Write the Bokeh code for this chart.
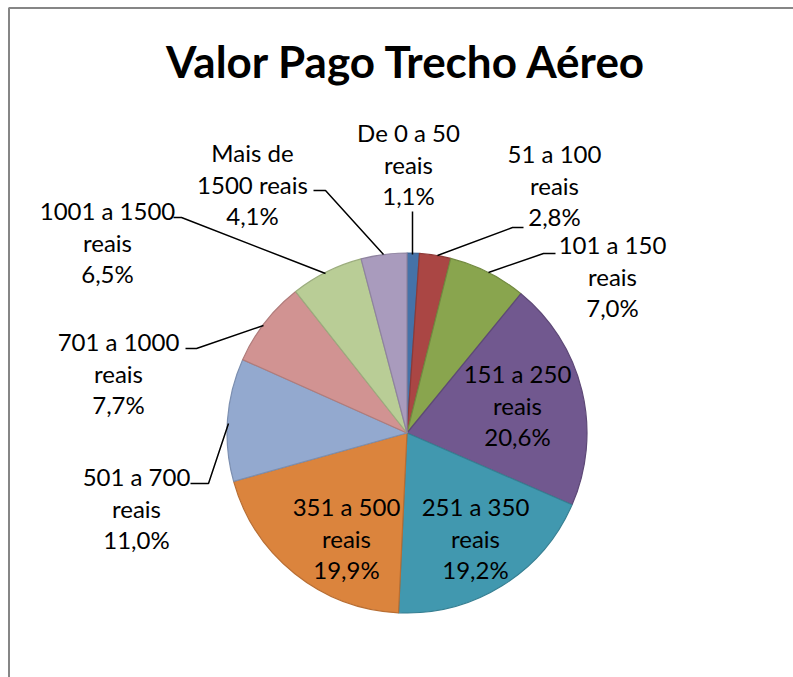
import math
from bokeh.plotting import figure
from bokeh.models import Range1d
from bokeh.core.properties import value
from bokeh.embed import file_html
from bokeh.resources import INLINE

# ---------------- data ----------------
title_text = "Valor Pago Trecho Aéreo"
categories = ["De 0 a 50\nreais", "51 a 100\nreais", "101 a 150\nreais", "151 a 250\nreais",
              "251 a 350\nreais", "351 a 500\nreais", "501 a 700\nreais", "701 a 1000\nreais",
              "1001 a 1500\nreais", "Mais de\n1500 reais"]
values = [1.1, 2.8, 7.0, 20.6, 19.2, 19.9, 11.0, 7.7, 6.5, 4.1]
fill_colors = ["#4572A8", "#AA4644", "#89A54E", "#71588F", "#4198AF",
               "#DB843D", "#93A9CF", "#D19392", "#B9CD96", "#A99BBD"]
edge_colors = ["#3A6090", "#8E3A38", "#728A40", "#5E4977", "#367F92",
               "#B86E33", "#7C8FB0", "#B07C7B", "#9CAD7E", "#8F83A0"]

# ---------------- layout (screen pixel positions) ----------------
W, H = 793, 677
def Y(sy):                   # screen y -> data y
    return H - sy

cx, cy, R = 406.5, 432.5, 180.0
label_pos = [(408, 132), (554, 153), (612, 244), (517, 373), (475, 506),
             (346, 506), (136, 476), (118, 341), (107, 210), (252, 152)]
line_gap = 31.5
leaders = {
    0: [(412, 211), (412, 254)],
    1: [(523, 227), (512, 227), (437, 255)],
    2: [(555, 253), (543, 253), (488, 272)],
    6: [(190, 483), (208, 483), (228, 423)],
    7: [(185, 348), (196, 348), (263, 325)],
    8: [(173, 217), (181, 217), (325, 273)],
    9: [(313, 190), (325, 190), (383, 254)],
}

p = figure(width=W, height=H, output_backend="svg", toolbar_location=None,
           x_range=Range1d(0, W), y_range=Range1d(0, H),
           x_axis_location=None, y_axis_location=None, min_border=0,
           outline_line_color=None, background_fill_color="white",
           border_fill_color="white")
p.grid.visible = False

# chart-area frame (left and top edges visible)
p.line([8.5, 8.5, 800], [Y(700), Y(7.5), Y(7.5)], line_color="#868686", line_width=2)

# pie slices
total = sum(values)
cum = 0.0
starts, ends = [], []
for v in values:
    starts.append(math.pi / 2 - 2 * math.pi * cum / total)
    cum += v
    ends.append(math.pi / 2 - 2 * math.pi * cum / total)
p.wedge(x=cx, y=Y(cy), radius=R, start_angle=starts, end_angle=ends, direction="clock",
        fill_color=fill_colors, line_color=edge_colors, line_width=1.2)

# leader lines
xs = [[pt[0] for pt in pts] for pts in leaders.values()]
ys = [[Y(pt[1]) for pt in pts] for pts in leaders.values()]
p.multi_line(xs=xs, ys=ys, line_color="black", line_width=1.5)

# data labels
tx, ty, tt = [], [], []
for i, (cat, v) in enumerate(zip(categories, values)):
    lines = cat.split("\n") + [f"{v:.1f}".replace(".", ",") + "%"]
    lx, ly = label_pos[i]
    for k, s in enumerate(lines):
        tx.append(lx)
        ty.append(Y(ly + k * line_gap))
        tt.append(s)
p.text(x=tx, y=ty, text=tt, text_font=value("Lato"), text_font_size="24px",
       text_align="center", text_baseline="alphabetic", text_color="black")

# title
p.text(x=[406.5], y=[Y(60)], text=[title_text], text_font=value("Lato"),
       text_font_size="44px", text_font_style="bold", text_align="center",
       text_baseline="alphabetic", text_color="black")

open("out.html", "w").write(file_html(p, INLINE))
